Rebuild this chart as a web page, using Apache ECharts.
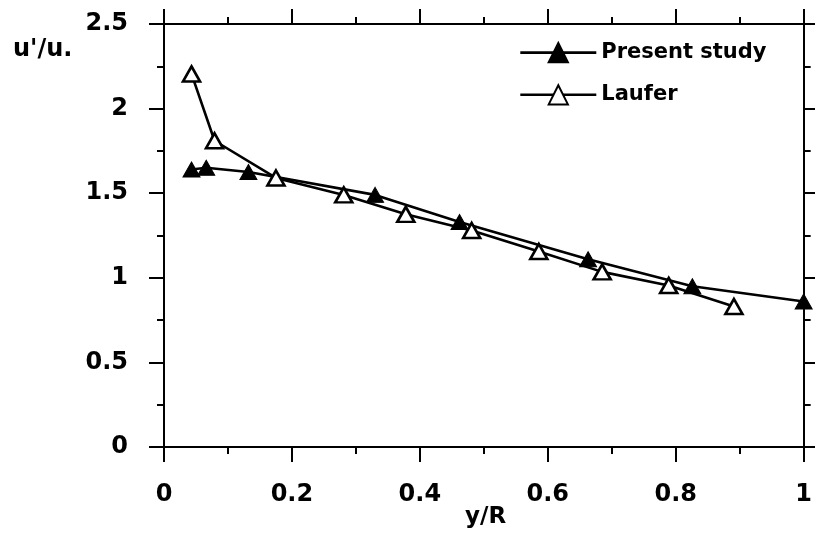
<!DOCTYPE html>
<html>
<head>
<meta charset="utf-8">
<script src="https://cdn.jsdelivr.net/npm/echarts@6/dist/echarts.min.js"></script>
<style>
html,body{margin:0;padding:0;background:#fff;}
#c{width:815px;height:535px;}
</style>
</head>
<body>
<div id="c"></div>
<script>
const presentX = [0.043, 0.066, 0.132, 0.33, 0.462, 0.663, 0.826, 1.0];
const presentY = [1.64, 1.65, 1.625, 1.49, 1.33, 1.11, 0.95, 0.86];
const lauferX = [0.043, 0.079, 0.175, 0.281, 0.378, 0.481, 0.586, 0.685, 0.789, 0.891];
const lauferY = [2.205, 1.81, 1.59, 1.49, 1.375, 1.28, 1.155, 1.035, 0.955, 0.83];
const seriesNames = ['Present study', 'Laufer'];
const xLabel = 'y/R';
const yLabel = "u'/u.";

const FONT = 'DejaVu Sans';
const chart = echarts.init(document.getElementById('c'), null, {renderer: 'canvas'});

function axisCommon(showLabel, extra) {
  return Object.assign({
    axisLine: {show: true, onZero: false, lineStyle: {color: '#000', width: 2}},
    axisTick: {show: true, inside: false, length: 15, lineStyle: {color: '#000', width: 2}},
    minorTick: {show: true, splitNumber: 2, length: 7, lineStyle: {color: '#000', width: 2}},
    splitLine: {show: false},
    minorSplitLine: {show: false},
    axisLabel: {show: showLabel, color: '#000', fontFamily: FONT, fontWeight: 'bold', fontSize: 24}
  }, extra);
}

const option = {
  backgroundColor: '#fff',
  animation: false,
  title: [
    {
      text: yLabel,
      left: 8, top: 33,
      textStyle: {color: '#000', fontFamily: FONT, fontWeight: 'bold', fontSize: 24}
    },
    {
      text: xLabel,
      left: 460, top: 501,
      textStyle: {color: '#000', fontFamily: FONT, fontWeight: 'bold', fontSize: 23}
    }
  ],
  grid: {left: 164, top: 24, right: 7, bottom: 88, containLabel: false},
  legend: {
    orient: 'vertical',
    left: 514, top: 37,
    itemWidth: 76, itemHeight: 24, itemGap: 21,
    lineStyle: {color: '#000', width: 2.6},
    textStyle: {color: '#000', fontFamily: FONT, fontWeight: 'bold', fontSize: 21},
    data: seriesNames
  },
  xAxis: [
    axisCommon(true, {
      type: 'value', position: 'bottom', min: 0, max: 1, interval: 0.2,
      axisLabel: {show: true, margin: 36, color: '#000', fontFamily: FONT, fontWeight: 'bold', fontSize: 24}
    }),
    axisCommon(false, {type: 'value', position: 'top', min: 0, max: 1, interval: 0.2})
  ],
  yAxis: [
    axisCommon(true, {
      type: 'value', position: 'left', min: 0, max: 2.5, interval: 0.5,
      axisLabel: {show: true, margin: 36, color: '#000', fontFamily: FONT, fontWeight: 'bold', fontSize: 24}
    }),
    axisCommon(false, {type: 'value', position: 'right', min: 0, max: 2.5, interval: 0.5})
  ],
  series: [
    {
      name: seriesNames[0], type: 'line',
      xAxisIndex: 0, yAxisIndex: 0,
      data: presentX.map((x, i) => [x, presentY[i]]),
      symbol: 'triangle', symbolSize: [17, 15],
      lineStyle: {color: '#000', width: 2.6},
      itemStyle: {color: '#000', borderColor: '#000', borderWidth: 1},
      z: 3
    },
    {
      name: seriesNames[1], type: 'line',
      xAxisIndex: 0, yAxisIndex: 0,
      data: lauferX.map((x, i) => [x, lauferY[i]]),
      symbol: 'triangle', symbolSize: [17, 15],
      lineStyle: {color: '#000', width: 2.6},
      itemStyle: {color: '#fff', borderColor: '#000', borderWidth: 2.6},
      z: 4
    }
  ]
};
chart.setOption(option);
</script>
</body>
</html>
